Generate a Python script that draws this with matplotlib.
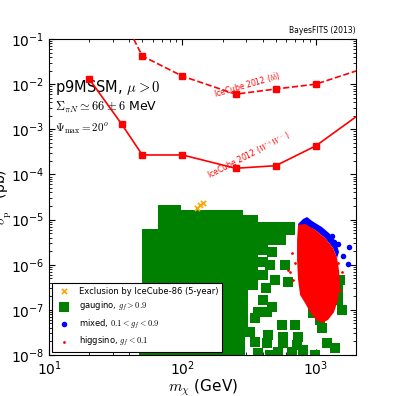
import matplotlib
matplotlib.use('Agg')
import matplotlib.pyplot as plt

plt.rcParams['font.family'] = 'DejaVu Sans'
plt.rcParams['mathtext.fontset'] = 'cm'

# IceCube 2012 limits (W+W- solid, bb dashed)
ww_mass = [20, 35, 50, 100, 250, 500, 1000, 3000]
ww_sigma = [1.3e-2, 1.3e-3, 2.7e-4, 2.7e-4, 1.37e-4, 1.56e-4, 4.3e-4, 4.5e-3]
bb_mass = [35, 50, 100, 250, 500, 1000, 3000]
bb_sigma = [0.33, 0.042, 0.015, 6.0e-3, 7.8e-3, 1.0e-2, 2.9e-2]

# points excluded by IceCube-86
excl_mass = [129, 135, 143]
excl_sigma = [1.8e-5, 2.1e-5, 2.3e-5]

# gaugino: outline of the dense region + stray points
gau_edge_mass = [47, 47, 50, 50, 65, 65, 98, 98, 284, 284, 369, 369, 699, 699,
                 369, 369, 310, 310, 295, 295]
gau_edge_sigma = [7e-9, 3.5e-7, 3.5e-7, 6.2e-6, 6.2e-6, 2.1e-5, 2.1e-5, 1.6e-5,
                  1.6e-5, 1.26e-5, 1.26e-5, 8.8e-6, 8.8e-6, 4.5e-6, 4.5e-6,
                  2.75e-7, 2.75e-7, 3.6e-8, 3.6e-8, 7e-9]
gau_mass = [402, 470, 549, 402, 470, 402, 454, 588, 402, 494, 619, 423, 402, 470,
            369, 431, 350, 558, 699, 321, 438, 568, 736, 350, 431, 568, 723, 369,
            454, 521, 664, 802, 987, 1213, 1393, 953, 1075, 1113, 1466, 1571,
            1466, 1518]
gau_sigma = [3.5e-6, 3.5e-6, 3.5e-6, 2.1e-6, 1.91e-6, 1.15e-6, 9.8e-7, 9.8e-7,
             5.9e-7, 4.6e-7, 4.1e-7, 3.05e-7, 1.65e-7, 1.16e-7, 8.9e-8, 8.9e-8,
             6.6e-8, 4.6e-8, 4.6e-8, 3.2e-8, 2.8e-8, 2.5e-8, 2.5e-8, 1.94e-8,
             1.84e-8, 1.84e-8, 1.66e-8, 1.11e-8, 1.0e-8, 1.16e-8, 1.16e-8,
             1.29e-8, 1.0e-8, 1.84e-8, 1.43e-8, 8.5e-8, 6.0e-8, 4.0e-8, 2.75e-7,
             9.9e-8, 1.65e-7, 4.6e-7]

# higgsino: outline of the dense blob + stray points
hig_edge_mass = [736, 830, 987, 1172, 1346, 1442, 1492, 1518, 1466, 1368, 1234,
                 1113, 1003, 905, 830, 762, 736, 723, 723]
hig_edge_sigma = [7.6e-6, 8.0e-6, 5.9e-6, 3.9e-6, 2.34e-6, 1.41e-6, 7.6e-7,
                  3.5e-7, 1.65e-7, 8.9e-8, 6.0e-8, 5.1e-8, 6.0e-8, 8.9e-8,
                  1.42e-7, 2.13e-7, 4.6e-7, 1.27e-6, 3.5e-6]
hig_mass = [664, 641, 699, 675, 619, 1571, 1518, 1466]
hig_sigma = [1.82e-6, 6.9e-7, 1.09e-6, 4.6e-7, 7.6e-7, 6.9e-7, 2.75e-7, 1.09e-6]

# mixed: band on top of the higgsino blob + stray points
mix_edge_mass = [736, 802, 860, 937, 1113, 1277, 1416, 1492, 1442, 1346, 1172,
                 987, 830, 736]
mix_edge_sigma = [8.0e-6, 1.03e-5, 1.14e-5, 9.3e-6, 6.8e-6, 4.8e-6, 3.2e-6,
                  1.91e-6, 1.41e-6, 2.34e-6, 3.9e-6, 5.9e-6, 7.6e-6, 7.2e-6]
mix_mass = [1322, 1368, 1466, 1599, 1774, 1742]
mix_sigma = [4.3e-6, 3.2e-6, 2.87e-6, 1.56e-6, 2.5e-6, 1.04e-6]

fig = plt.figure(figsize=(3.96, 3.96), dpi=100)
ax = fig.add_axes([0.124, 0.1035, 0.775, 0.798])

green = '#008000'
ax.fill(gau_edge_mass, gau_edge_sigma, color=green, lw=0, zorder=2)
gau = ax.scatter(gau_mass, gau_sigma, s=50, marker='s', color=green, lw=0, zorder=2,
                 label=r'gaugino, $g_f>0.9$')
ax.fill(mix_edge_mass, mix_edge_sigma, color='blue', lw=0, zorder=3)
mix = ax.scatter(mix_mass, mix_sigma, s=16, marker='o', color='blue', lw=0, zorder=3,
                 label=r'mixed, $0.1<g_f<0.9$')
ax.fill(hig_edge_mass, hig_edge_sigma, color='red', lw=0, zorder=4)
hig = ax.scatter(hig_mass, hig_sigma, s=4, marker='o', color='red', lw=0, zorder=4,
                 label=r'higgsino, $g_f<0.1$')
exc = ax.scatter(excl_mass, excl_sigma, s=14, marker='x', color='orange', lw=1.2, zorder=5,
                 label='Exclusion by IceCube-86 (5-year)')

ax.plot(ww_mass, ww_sigma, color='red', ls='-', lw=1.2, marker='s', markersize=4, zorder=6)
ax.plot(bb_mass, bb_sigma, color='red', ls='--', lw=1.2, marker='s', markersize=4, zorder=6)

ax.set_xscale('log')
ax.set_yscale('log')
ax.set_xlim(10, 2000)
ax.set_ylim(1e-8, 1e-1)
ax.tick_params(which='both', direction='in', top=True, right=True, labelsize=10)
ax.tick_params(which='major', length=4)
ax.tick_params(which='minor', length=2)

ax.set_xlabel(r'$m_{\chi}$ (GeV)', fontsize=11, labelpad=-1)
ax.set_ylabel(r'$\sigma_{\rm p}^{\rm SD}$ (pb)', fontsize=10, labelpad=-2)

ax.text(0.02, 0.845, r'p9MSSM, $\mu>0$', transform=ax.transAxes, fontsize=10.5, va='center')
ax.text(0.02, 0.785, r'$\Sigma_{\pi N}\simeq 66\pm 6$ MeV', transform=ax.transAxes, fontsize=9, va='center')
ax.text(0.02, 0.715, r'$\Psi_{\max}=20^o$', transform=ax.transAxes, fontsize=8, va='center')
ax.text(1.0, 1.012, 'BayesFITS (2013)', transform=ax.transAxes, fontsize=5.5, ha='right', va='bottom')

ax.text(308, 9.5e-3, r'IceCube 2012 ($b\bar{b}$)', color='red', fontsize=5.5,
        rotation=16, ha='center', va='center')
ax.text(315, 2.6e-4, r'IceCube 2012 ($W^+W^-$)', color='red', fontsize=5.5,
        rotation=27, ha='center', va='center')

leg = ax.legend(handles=[exc, gau, mix, hig], loc='lower left', fontsize=6,
                fancybox=False, edgecolor='black', framealpha=1, labelspacing=0.55,
                borderaxespad=0.4, scatterpoints=1)
leg.get_frame().set_linewidth(0.8)

fig.savefig('out.png', dpi=100)
